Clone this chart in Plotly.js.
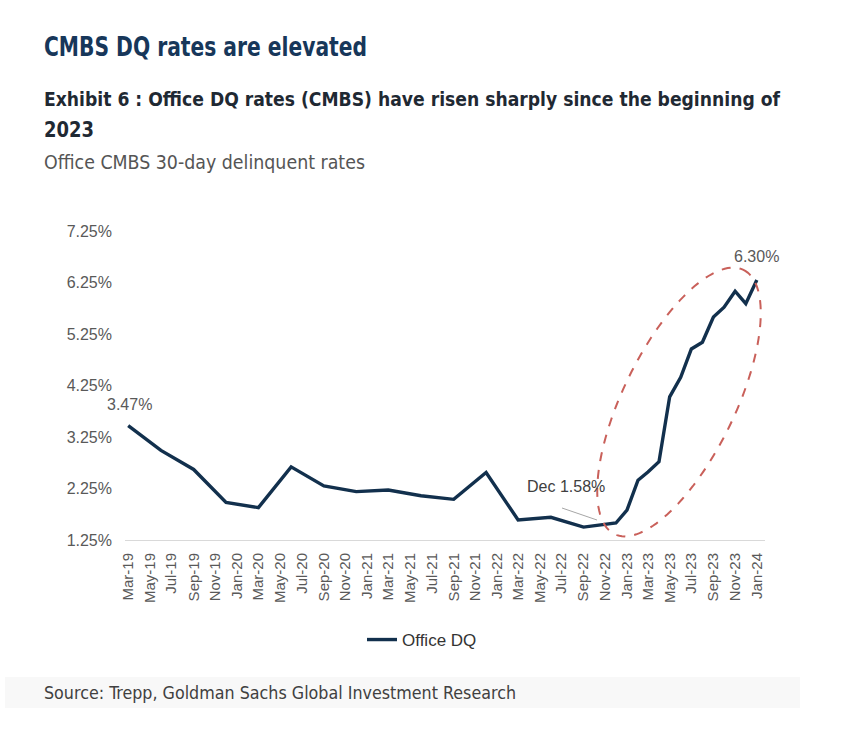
<!DOCTYPE html>
<html>
<head>
<meta charset="utf-8">
<script src="https://cdn.plot.ly/plotly-3.0.1.min.js"></script>
<style>
html,body{margin:0;padding:0;background:#fff;}
#chart{width:843px;height:746px;}
</style>
</head>
<body>
<div id="chart"></div>
<script>
// ---- Data ----
const dates = [
  '2019-03-01','2019-06-01','2019-09-01','2019-12-01',
  '2020-03-01','2020-06-01','2020-09-01','2020-12-01',
  '2021-03-01','2021-06-01','2021-09-01','2021-12-01',
  '2022-03-01','2022-06-01','2022-09-01','2022-12-01',
  '2023-01-01','2023-02-01','2023-03-01','2023-04-01','2023-05-01','2023-06-01',
  '2023-07-01','2023-08-01','2023-09-01','2023-10-01','2023-11-01','2023-12-01',
  '2024-01-01'
];
const officeDQ = [
  3.47, 2.99, 2.62, 1.98,
  1.88, 2.67, 2.30, 2.19,
  2.22, 2.11, 2.04, 2.56,
  1.64, 1.69, 1.50, 1.58,
  1.83, 2.41, 2.57, 2.77, 4.03, 4.41,
  4.96, 5.09, 5.58, 5.77, 6.08, 5.84,
  6.30
];
const yTicks = [1.25, 2.25, 3.25, 4.25, 5.25, 6.25, 7.25];
const seriesName = 'Office DQ';
const titleText = 'CMBS DQ rates are elevated';
const exhibitLine1 = 'Exhibit 6 : Office DQ rates (CMBS) have risen sharply since the beginning of';
const exhibitLine2 = '2023';
const subtitleText = 'Office CMBS 30-day delinquent rates';
const sourceText = 'Source: Trepp, Goldman Sachs Global Investment Research';

// ---- Layout helpers (pixel -> paper) ----
const W = 843, H = 746;
const M = {l:125, r:78, t:231, b:206};
const PW = W - M.l - M.r, PH = H - M.t - M.b;
const px = x => (x - M.l) / PW;
const py = y => (H - M.b - y) / PH;

const condensed = '"DejaVu Sans Condensed","Liberation Sans Narrow",sans-serif';
const arial = '"Liberation Sans", Arial, Helvetica, sans-serif';

// rotated ellipse highlighting the 2023 surge
function ellipsePath(cx, cy, a, b, angDeg, n) {
  const t = angDeg * Math.PI / 180;
  let d = '';
  for (let i = 0; i <= n; i++) {
    const u = 2 * Math.PI * i / n;
    const ex = a * Math.cos(u), ey = b * Math.sin(u);
    const X = cx + ex * Math.cos(t) - ey * Math.sin(t);
    const Y = cy + ex * Math.sin(t) + ey * Math.cos(t);
    d += (i === 0 ? 'M' : 'L') + px(X).toFixed(5) + ',' + py(Y).toFixed(5);
  }
  return d + 'Z';
}

const trace = {
  x: dates, y: officeDQ, type: 'scatter', mode: 'lines', name: seriesName,
  line: {color: '#12304d', width: 3.4}
};

const n = dates.length;
function leftText(text, yPix, font) {
  return {xref:'paper', yref:'paper', x: px(42), y: py(yPix), xanchor:'left', yanchor:'middle',
          showarrow:false, text: text, font: font};
}
const layout = {
  width: W, height: H,
  margin: M,
  paper_bgcolor: '#ffffff', plot_bgcolor: '#ffffff',
  showlegend: true,
  legend: {orientation: 'h', x: px(362), xanchor: 'left', y: py(640), yanchor: 'middle',
           font: {family: arial, size: 17, color: '#333333'}, bgcolor: 'rgba(0,0,0,0)'},
  xaxis: {
    type: 'date', range: ['2019-02-20', '2024-01-24'],
    tick0: '2019-03-01', dtick: 'M2', tickformat: '%b-%y', tickangle: -90,
    showgrid: false, zeroline: false, showline: true, linecolor: '#d9d9d9', linewidth: 1,
    ticks: '', ticklabelstandoff: 6, tickfont: {family: arial, size: 15, color: '#595959'}
  },
  yaxis: {
    range: [1.25, 7.25], tickvals: yTicks, ticktext: yTicks.map(v => v.toFixed(2) + '%'),
    showgrid: false, zeroline: false, showline: false, ticks: '', ticklabelstandoff: 12,
    tickfont: {family: arial, size: 16, color: '#595959'}
  },
  annotations: [
    leftText(titleText, 47, {family: condensed, size: 26, weight: 'bold', color:'#17375a'}),
    leftText(exhibitLine1, 99, {family: condensed, size: 20, weight: 'bold', color:'#1f2933'}),
    leftText(exhibitLine2, 130, {family: condensed, size: 21, weight: 'bold', color:'#1f2933'}),
    leftText(subtitleText, 162, {family: condensed, size: 19.5, color:'#555555'}),
    leftText(sourceText, 692, {family: condensed, size: 18.5, color:'#404040'}),
    {x: dates[0], y: officeDQ[0], showarrow:false, yshift: 21, xshift: 1,
     text: officeDQ[0].toFixed(2) + '%', font:{family: arial, size: 16, color:'#595959'}},
    {x: dates[n-1], y: officeDQ[n-1], showarrow:false, yshift: 23, xshift: 0,
     text: officeDQ[n-1].toFixed(2) + '%', font:{family: arial, size: 16, color:'#595959'}},
    {x: dates[15], y: officeDQ[15], showarrow:false, yshift: 37, xshift: -50,
     text: 'Dec ' + officeDQ[15].toFixed(2) + '%', font:{family: arial, size: 16, color:'#404040'}}
  ],
  shapes: [
    {type:'rect', xref:'paper', yref:'paper', x0: px(5), x1: px(800), y0: py(708), y1: py(677),
     line:{width:0}, fillcolor:'rgba(238,238,238,0.4)', layer:'below'},
    {type:'line', xref:'paper', yref:'paper', x0: px(562), y0: py(508), x1: px(597), y1: py(520),
     line:{color:'#a6a6a6', width:1}},
    {type:'path', xref:'paper', yref:'paper', path: ellipsePath(679, 402, 147, 56, -64, 140),
     line:{color:'#c9605a', width:2, dash:'dash'}}
  ]
};

// target pixel widths of the condensed header/footer texts in the reference
const fitWidths = {0: 323, 1: 736, 2: 50, 3: 321, 4: 472};

Plotly.newPlot('chart', [trace], layout, {displayModeBar:false, staticPlot:true}).then(() => {
  const anns = document.querySelectorAll('#chart .annotation');
  Object.keys(fitWidths).forEach(k => {
    const g = anns[+k];
    if (!g) return;
    const t = g.querySelector('text.annotation-text');
    if (!t) return;
    const bb = t.getBBox();
    t.setAttribute('text-anchor', 'start');
    t.setAttribute('x', bb.x);
    t.querySelectorAll('tspan').forEach(s => s.setAttribute('x', bb.x));
    t.setAttribute('textLength', fitWidths[k]);
    t.setAttribute('lengthAdjust', 'spacingAndGlyphs');
  });
});
</script>
</body>
</html>
